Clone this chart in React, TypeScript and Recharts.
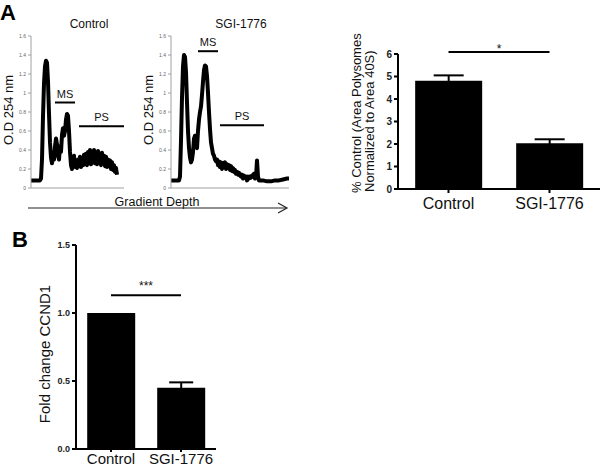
import {
  Bar,
  BarChart,
  ErrorBar,
  Line,
  LineChart,
  ReferenceLine,
  XAxis,
  YAxis,
} from "recharts";

const FONT = '"Liberation Sans", Arial, sans-serif';

// polysome profiles: [gradient position, O.D 254 nm]
const CONTROL_TRACE = [
  [0, 0.08], [9, 0.08], [10, 0.1], [11, 0.3], [12, 0.75], [13, 1.1], [14, 1.28], [15, 1.34],
  [16, 1.32], [17, 1.12], [18, 0.78], [19, 0.48], [20, 0.32], [21, 0.26], [22, 0.34], [23, 0.3],
  [24, 0.44], [25, 0.52], [26, 0.46], [27, 0.34], [28, 0.3], [29, 0.44], [30, 0.38], [31, 0.56],
  [32, 0.63], [33, 0.55], [34, 0.6], [35, 0.72], [36, 0.78], [37, 0.76], [38, 0.6], [39, 0.38],
  [40, 0.24], [41, 0.2], [42, 0.3], [43, 0.34], [44, 0.22], [45, 0.28], [46, 0.21], [47, 0.3],
  [48, 0.23], [49, 0.33], [50, 0.22], [51, 0.31], [52, 0.24], [53, 0.35], [54, 0.25], [55, 0.36],
  [56, 0.24], [57, 0.38], [58, 0.26], [59, 0.4], [60, 0.25], [61, 0.38], [62, 0.27], [63, 0.4],
  [64, 0.26], [65, 0.37], [66, 0.25], [67, 0.39], [68, 0.27], [69, 0.36], [70, 0.24], [71, 0.37],
  [72, 0.26], [73, 0.34], [74, 0.23], [75, 0.33], [76, 0.22], [77, 0.3], [78, 0.23], [79, 0.29],
  [80, 0.2], [81, 0.27], [82, 0.19], [83, 0.24], [84, 0.17], [85, 0.21], [86, 0.14],
];
const SGI_TRACE = [
  [0, 0.08], [8, 0.08], [9, 0.12], [10, 0.5], [11, 0.95], [12, 1.28], [13, 1.4], [14, 1.38],
  [15, 1.22], [16, 0.9], [17, 0.6], [18, 0.42], [19, 0.32], [20, 0.27], [21, 0.3], [22, 0.38],
  [23, 0.52], [24, 0.55], [25, 0.45], [26, 0.42], [27, 0.6], [28, 0.72], [29, 0.8], [30, 0.86],
  [31, 0.98], [32, 1.12], [33, 1.24], [34, 1.29], [35, 1.28], [36, 1.18], [37, 1.0], [38, 0.8],
  [39, 0.62], [40, 0.48], [41, 0.42], [42, 0.36], [43, 0.34], [44, 0.3], [45, 0.28], [46, 0.3],
  [47, 0.24], [48, 0.28], [49, 0.22], [50, 0.27], [51, 0.2], [52, 0.26], [53, 0.24], [54, 0.27],
  [55, 0.2], [56, 0.25], [57, 0.21], [58, 0.24], [59, 0.19], [60, 0.23], [61, 0.18], [62, 0.21],
  [63, 0.17], [64, 0.19], [65, 0.15], [66, 0.17], [67, 0.14], [68, 0.16], [69, 0.13], [70, 0.12],
  [71, 0.14], [72, 0.1], [73, 0.13], [74, 0.11], [75, 0.12], [76, 0.08], [77, 0.12], [78, 0.1],
  [79, 0.12], [80, 0.11], [81, 0.13], [82, 0.12], [83, 0.15], [84, 0.1], [85, 0.12], [86, 0.29],
  [87, 0.12], [88, 0.08], [92, 0.08], [96, 0.07], [100, 0.07], [104, 0.08], [108, 0.08],
  [112, 0.09], [116, 0.1], [118, 0.1],
];
const OD_TICKS = [0, 0.2, 0.4, 0.6, 0.8, 1, 1.2, 1.4, 1.6];

// fraction bands: [from, to, level]
const CONTROL_MS = [24, 44, 0.9];
const CONTROL_PS = [48, 93, 0.65];
const SGI_MS = [27, 47, 1.44];
const SGI_PS = [49, 93, 0.66];

const GROUPS = ["Control", "SGI-1776"];
const POLYSOME_MEAN = [4.81, 2.03];
const POLYSOME_SEM = [0.24, 0.18];
const POLYSOME_TICKS = [0, 1, 2, 3, 4, 5, 6];
const CCND1_MEAN = [1.0, 0.45];
const CCND1_SEM = [0, 0.04];
const CCND1_TICKS = [0, 0.5, 1, 1.5];

function Band({ band, text }: { band: number[]; text: string }) {
  return (
    <ReferenceLine
      segment={[
        { x: band[0], y: band[2] },
        { x: band[1], y: band[2] },
      ]}
      stroke="#000"
      strokeWidth={2}
      ifOverflow="visible"
      label={{ value: text, position: "top", offset: 5, fontSize: 11, fill: "#111" }}
    />
  );
}

function Trace({
  data,
  depth,
  ms,
  ps,
  left,
  width,
}: {
  data: number[][];
  depth: number;
  ms: number[];
  ps: number[];
  left: number;
  width: number;
}) {
  const points = data.map(([x, od]) => ({ x, od }));
  return (
    <div style={{ position: "absolute", left, top: 0 }}>
      <LineChart width={width} height={195} data={points} margin={{ top: 36, right: 6, bottom: 6, left: 11 }}>
        <XAxis
          type="number"
          dataKey="x"
          domain={[0, depth]}
          tick={false}
          tickLine={false}
          height={1}
          axisLine={{ stroke: "#a0a0a0" }}
        />
        <YAxis
          domain={[0, 1.6]}
          ticks={OD_TICKS}
          width={20}
          tick={{ fontSize: 5, fill: "#666" }}
          tickSize={3}
          tickLine={{ stroke: "#a0a0a0" }}
          axisLine={{ stroke: "#a0a0a0" }}
          tickFormatter={(v: number) => String(+v.toFixed(1))}
        />
        <Line
          dataKey="od"
          type="linear"
          stroke="#000"
          strokeWidth={4}
          strokeLinejoin="round"
          dot={false}
          isAnimationActive={false}
        />
        {Band({ band: ms, text: "MS" })}
        {Band({ band: ps, text: "PS" })}
      </LineChart>
    </div>
  );
}

export default function App() {
  const polysomeData = GROUPS.map((g, i) => ({ group: g, value: POLYSOME_MEAN[i], sem: POLYSOME_SEM[i] }));
  const ccnd1Data = GROUPS.map((g, i) => ({ group: g, value: CCND1_MEAN[i], sem: CCND1_SEM[i] }));
  const axis = { stroke: "#000", strokeWidth: 2 };

  return (
    <div
      style={{
        position: "absolute",
        left: 0,
        top: 0,
        width: 600,
        height: 468,
        background: "#fff",
        fontFamily: FONT,
        overflow: "hidden",
      }}
    >
      <Trace data={CONTROL_TRACE} depth={93} ms={CONTROL_MS} ps={CONTROL_PS} left={0} width={130} />
      <Trace data={SGI_TRACE} depth={118} ms={SGI_MS} ps={SGI_PS} left={140} width={155} />

      <div style={{ position: "absolute", left: 300, top: 0 }}>
        <BarChart
          width={300}
          height={225}
          data={polysomeData}
          margin={{ top: 54, right: 0, bottom: 6, left: 68 }}
          barCategoryGap="17%"
        >
          <XAxis
            dataKey="group"
            interval={0}
            height={30}
            tick={{ fontSize: 16, fill: "#111" }}
            tickSize={4}
            tickMargin={5}
            axisLine={axis}
            tickLine={axis}
          />
          <YAxis
            domain={[0, 6]}
            ticks={POLYSOME_TICKS}
            width={30}
            tick={{ fontSize: 10, fontWeight: 700, fill: "#222" }}
            tickSize={4}
            axisLine={axis}
            tickLine={axis}
          />
          <Bar dataKey="value" fill="#000" isAnimationActive={false}>
            <ErrorBar dataKey="sem" width={15} stroke="#000" strokeWidth={2} direction="y" />
          </Bar>
          <ReferenceLine
            segment={[
              { x: "Control", y: 6.09 },
              { x: "SGI-1776", y: 6.09 },
            ]}
            stroke="#000"
            strokeWidth={2}
            ifOverflow="visible"
            label={{ value: "*", position: "top", offset: -1, fontSize: 12, fill: "#111" }}
          />
        </BarChart>
      </div>

      <div style={{ position: "absolute", left: 0, top: 230 }}>
        <BarChart
          width={230}
          height={238}
          data={ccnd1Data}
          margin={{ top: 15, right: 14, bottom: 0, left: 46 }}
          barCategoryGap="16%"
        >
          <XAxis
            dataKey="group"
            interval={0}
            height={19}
            tick={{ fontSize: 15, fill: "#111" }}
            tickSize={3}
            tickMargin={1}
            axisLine={axis}
            tickLine={axis}
          />
          <YAxis
            domain={[0, 1.5]}
            ticks={CCND1_TICKS}
            width={30}
            tick={{ fontSize: 9, fontWeight: 700, fill: "#222" }}
            tickSize={4}
            axisLine={axis}
            tickLine={axis}
            tickFormatter={(v: number) => v.toFixed(1)}
          />
          <Bar dataKey="value" fill="#000" isAnimationActive={false}>
            <ErrorBar dataKey="sem" width={12} stroke="#000" strokeWidth={2} direction="y" />
          </Bar>
          <ReferenceLine
            segment={[
              { x: "Control", y: 1.13 },
              { x: "SGI-1776", y: 1.13 },
            ]}
            stroke="#000"
            strokeWidth={2}
            label={{ value: "***", position: "top", offset: 5, fontSize: 12, fill: "#111" }}
          />
        </BarChart>
      </div>

      <svg
        width={600}
        height={468}
        style={{ position: "absolute", left: 0, top: 0, pointerEvents: "none" }}
        fontFamily={FONT}
      >
        <text x={0} y={20} fontSize={22} fontWeight={700}>A</text>
        <text x={12} y={247} fontSize={22} fontWeight={700}>B</text>
        <text x={89} y={28} fontSize={12} textAnchor="middle" fill="#111">Control</text>
        <text x={241} y={28} fontSize={12} textAnchor="middle" fill="#111">SGI-1776</text>
        <text x={8} y={110} fontSize={13} textAnchor="middle" dominantBaseline="central" transform="rotate(-90 8 110)" fill="#111">
          O.D 254 nm
        </text>
        <text x={148} y={110} fontSize={13} textAnchor="middle" dominantBaseline="central" transform="rotate(-90 148 110)" fill="#111">
          O.D 254 nm
        </text>
        <text x={157} y={206} fontSize={12.5} textAnchor="middle" fill="#111">Gradient Depth</text>
        <line x1={28} y1={208} x2={287} y2={208} stroke="#222" strokeWidth={1.2} />
        <polyline points="278,203 287,208 278,213" fill="none" stroke="#222" strokeWidth={1.2} />
        <text x={356} y={193} fontSize={13} dominantBaseline="central" transform="rotate(-90 356 193)" fill="#111">
          % Control (Area Polysomes
        </text>
        <text x={369} y={192} fontSize={13} dominantBaseline="central" transform="rotate(-90 369 192)" fill="#111">
          Normalized to Area 40S)
        </text>
        <text x={44} y={354} fontSize={15} textAnchor="middle" dominantBaseline="central" transform="rotate(-90 44 354)" fill="#111">
          Fold change CCND1
        </text>
      </svg>
    </div>
  );
}
